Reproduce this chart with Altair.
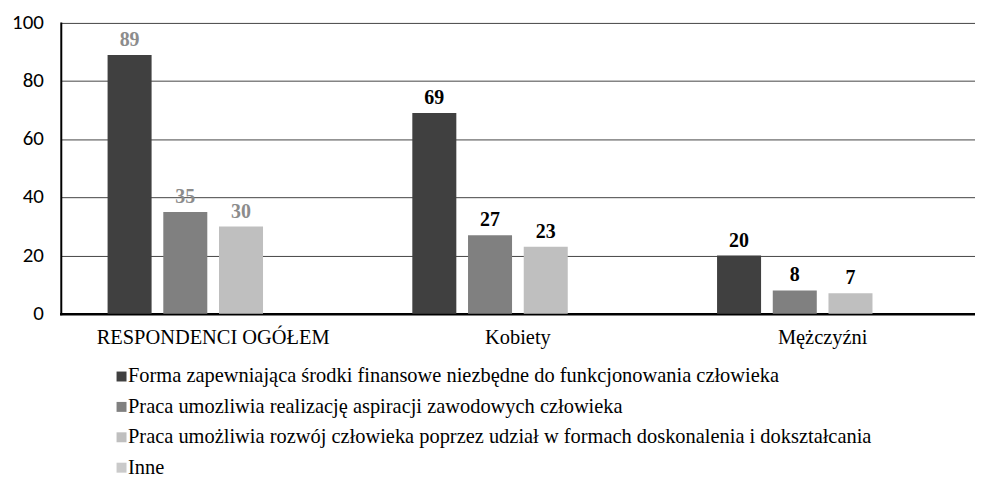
import altair as alt
import pandas as pd

groups = ["RESPONDENCI OGÓŁEM", "Kobiety", "Mężczyźni"]
series = [
    "Forma zapewniająca środki finansowe niezbędne do funkcjonowania człowieka",
    "Praca umozliwia realizację aspiracji zawodowych człowieka",
    "Praca umożliwia rozwój człowieka poprzez udział w formach doskonalenia i dokształcania",
    "Inne",
]
s1 = [89, 69, 20]
s2 = [35, 27, 8]
s3 = [30, 23, 7]
s4 = [0, 0, 0]
y_ticks = [0, 20, 40, 60, 80, 100]
colors = ["#404040", "#808080", "#bfbfbf", "#cacaca"]

rows = []
for vals, s in zip([s1, s2, s3, s4], series):
    for g, v in zip(groups, vals):
        rows.append({"group": g, "series": s, "value": v})
df = pd.DataFrame(rows)
gdf = pd.DataFrame({"group": groups})
tdf = pd.DataFrame({"t": y_ticks})
ldf = pd.DataFrame({"series": series, "idx": list(range(len(series)))})

serif = "Liberation Serif"
yscale = alt.Scale(domain=[0, 100])
cscale = alt.Scale(domain=series, range=colors)

x = alt.X("group:N", sort=groups, title=None,
          scale=alt.Scale(paddingInner=0, paddingOuter=0),
          axis=alt.Axis(labels=False, ticks=False, domainColor="black", domainWidth=2.5))
xo = alt.XOffset("series:N", sort=series, scale=alt.Scale(paddingInner=0.21, paddingOuter=0.84))
y = alt.Y("value:Q", title=None, scale=yscale,
          axis=alt.Axis(values=y_ticks, labels=False, ticks=False,
                        domainColor="black", domainWidth=2,
                        gridColor="#444444", gridWidth=1))

bars = alt.Chart(df).mark_bar().encode(
    x=x, xOffset=xo, y=y,
    color=alt.Color("series:N", sort=series, scale=cscale, legend=None),
)

labels = alt.Chart(df).transform_filter(alt.datum.series != "Inne").mark_text(
    font=serif, fontSize=20, fontWeight="bold", baseline="alphabetic", dy=-9
).encode(
    x=x, xOffset=xo, y=y,
    text=alt.Text("value:Q"),
    color=alt.condition(alt.datum.group == "RESPONDENCI OGÓŁEM", alt.value("#8c8c8c"), alt.value("black")),
)

# y tick labels (Calibri-like)
ylab = alt.Chart(tdf).mark_text(font="Carlito", fontSize=21, align="right", baseline="middle",
                                color="black").encode(
    x=alt.value(-17), y=alt.Y("t:Q", scale=yscale), text=alt.Text("t:Q"))

# x category labels, placed below the zero line
xlab = alt.Chart(gdf).transform_calculate(yy="-8.2").mark_text(
    font=serif, fontSize=20.5, baseline="middle", color="black").encode(
    x=alt.X("group:N", sort=groups), y=alt.Y("yy:Q", scale=yscale), text="group:N")

# legend rows below the chart
leg_sq = alt.Chart(ldf).transform_calculate(yy="-21.6 - datum.idx * 10.45").mark_square(
    size=100, opacity=1, strokeWidth=0).encode(
    x=alt.value(61), y=alt.Y("yy:Q", scale=yscale),
    color=alt.Color("series:N", sort=series, scale=cscale, legend=None))
leg_tx = alt.Chart(ldf).transform_calculate(yy="-21.6 - datum.idx * 10.45").mark_text(
    font=serif, fontSize=20.5, align="left", baseline="middle", color="black").encode(
    x=alt.value(67.5), y=alt.Y("yy:Q", scale=yscale), text="series:N")

chart = alt.layer(bars, labels, ylab, xlab, leg_sq, leg_tx).properties(
    width=918, height=292,
    autosize=alt.AutoSizeParams(type="none"),
    padding={"left": 53, "top": 14, "right": 0, "bottom": 163},
).configure_view(stroke=None).configure_axis(domainCap="square")

chart.save("out.html", embed_options={"renderer": "svg", "actions": False})
